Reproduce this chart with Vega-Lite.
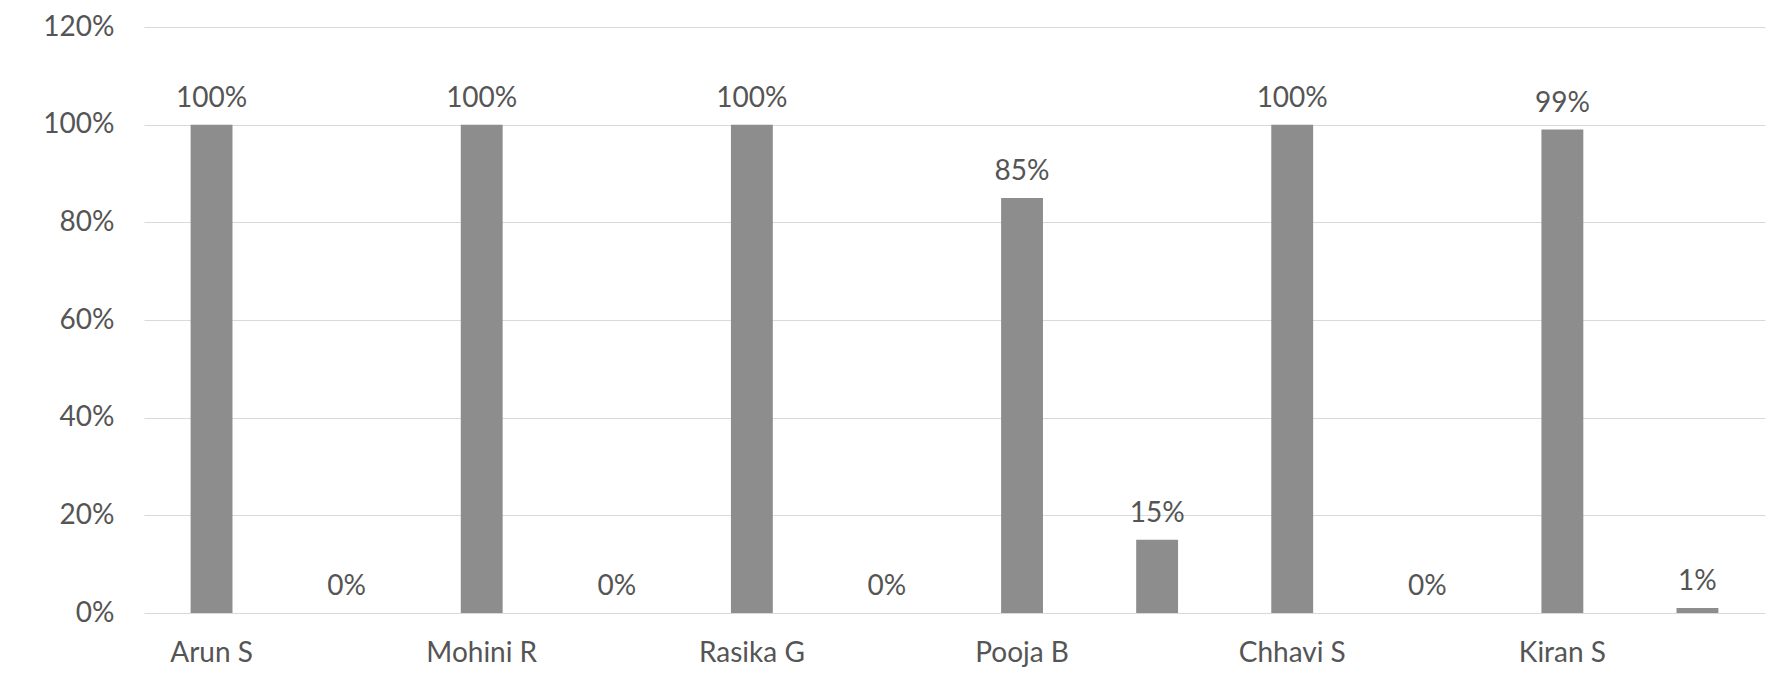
{
  "$schema": "https://vega.github.io/schema/vega-lite/v6.json",
  "autosize": "none",
  "width": 1621,
  "height": 586,
  "padding": {"left": 144, "top": 27, "right": 2, "bottom": 82},
  "background": "white",
  "data": {
    "values": [
      {"name": "Arun S", "series": "A", "value": 1.0},
      {"name": "Arun S", "series": "B", "value": 0.0},
      {"name": "Mohini R", "series": "A", "value": 1.0},
      {"name": "Mohini R", "series": "B", "value": 0.0},
      {"name": "Rasika G", "series": "A", "value": 1.0},
      {"name": "Rasika G", "series": "B", "value": 0.0},
      {"name": "Pooja B", "series": "A", "value": 0.85},
      {"name": "Pooja B", "series": "B", "value": 0.15},
      {"name": "Chhavi S", "series": "A", "value": 1.0},
      {"name": "Chhavi S", "series": "B", "value": 0.0},
      {"name": "Kiran S", "series": "A", "value": 0.99},
      {"name": "Kiran S", "series": "B", "value": 0.01}
    ]
  },
  "encoding": {
    "x": {
      "field": "name",
      "type": "nominal",
      "sort": null,
      "scale": {"paddingInner": 0, "paddingOuter": 0},
      "axis": {
        "title": null,
        "labelAngle": 0,
        "labelOffset": -67.5,
        "domain": false,
        "ticks": false,
        "labelPadding": 26,
        "labelFont": "Lato",
        "labelFontSize": 28,
        "labelColor": "#555555"
      }
    },
    "xOffset": {
      "field": "series",
      "type": "nominal",
      "scale": {"paddingInner": 0.69, "paddingOuter": 0.345}
    },
    "y": {
      "field": "value",
      "type": "quantitative",
      "scale": {"domain": [0, 1.2], "nice": false},
      "axis": {
        "title": null,
        "values": [0, 0.2, 0.4, 0.6, 0.8, 1.0, 1.2],
        "format": ".0%",
        "domain": false,
        "ticks": false,
        "labelPadding": 30,
        "labelFont": "Lato",
        "labelFontSize": 28,
        "labelColor": "#555555",
        "gridColor": "#d9d9d9",
        "gridWidth": 1.2
      }
    }
  },
  "layer": [
    {"mark": {"type": "bar", "color": "#8d8d8d"}},
    {
      "mark": {
        "type": "text",
        "baseline": "alphabetic",
        "dy": -18,
        "font": "Lato",
        "fontSize": 28,
        "color": "#555555"
      },
      "encoding": {"text": {"field": "value", "type": "quantitative", "format": ".0%"}}
    }
  ],
  "config": {"view": {"stroke": null}}
}
